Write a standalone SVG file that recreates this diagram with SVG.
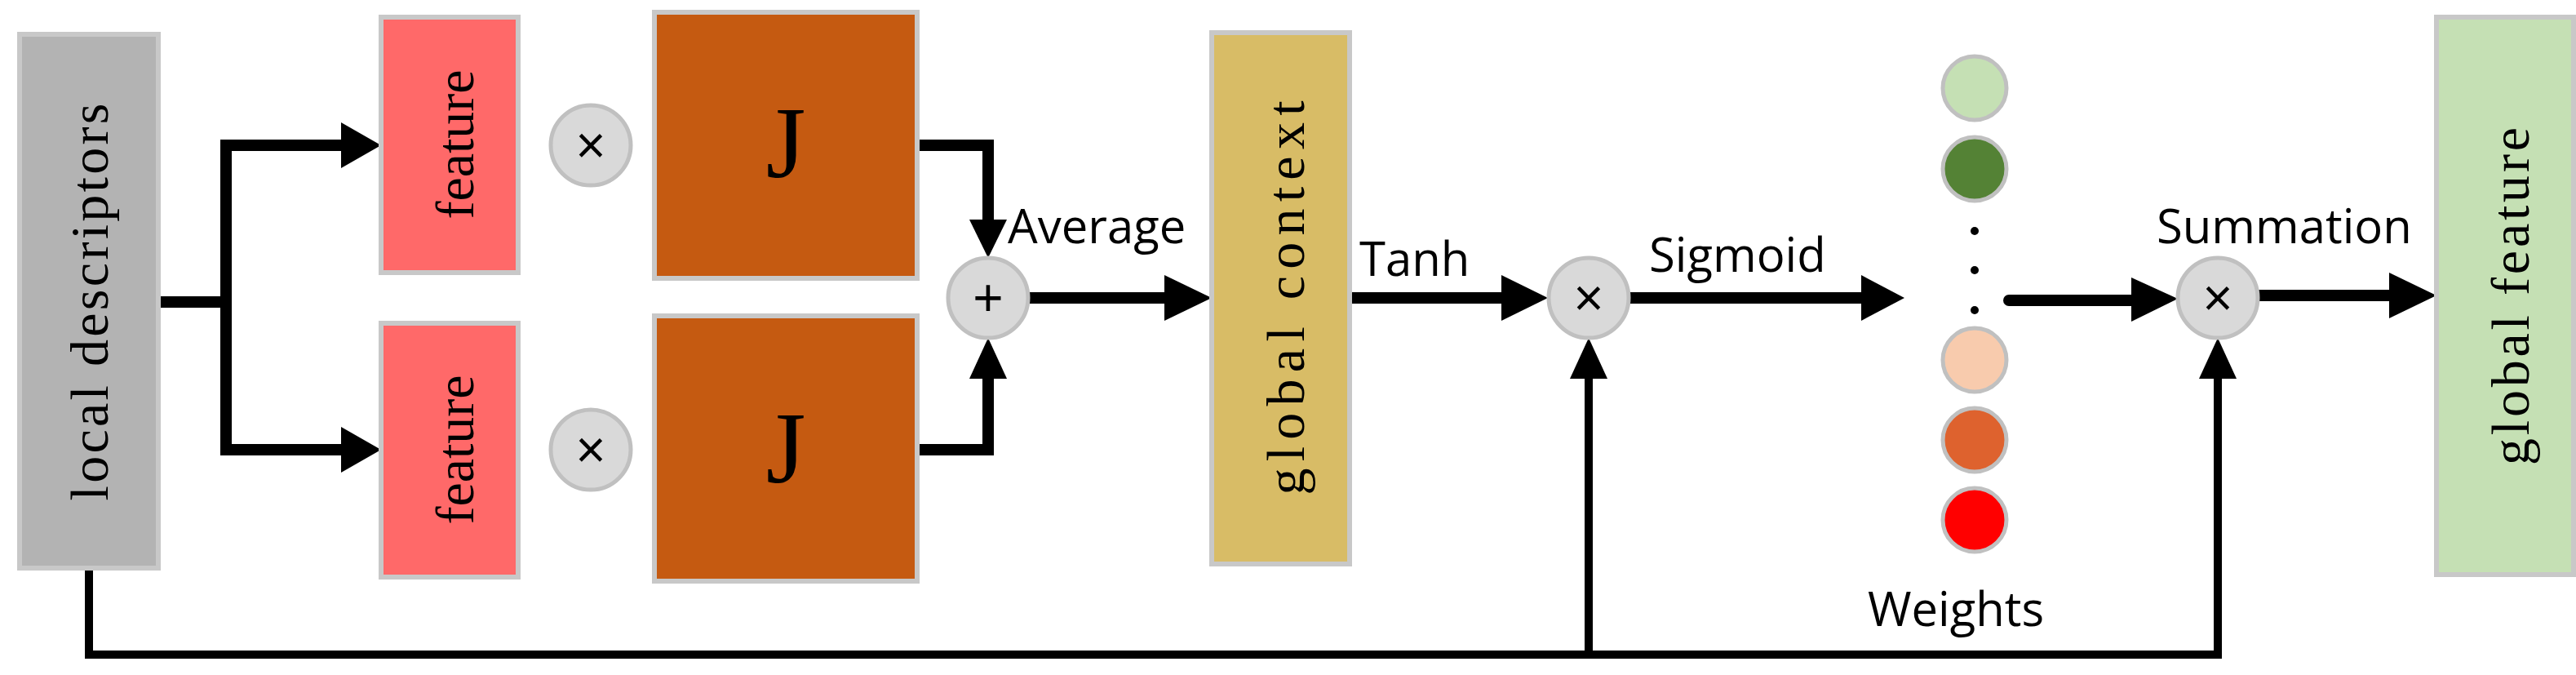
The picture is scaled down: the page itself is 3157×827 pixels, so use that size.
<svg xmlns="http://www.w3.org/2000/svg" width="3157" height="827" viewBox="0 0 3157 827">
<style>
.box{stroke:#c8c8c8;stroke-width:6}
.op{fill:#d9d9d9;stroke:#c0c0c0;stroke-width:5}
.ser{font-family:"Liberation Serif",serif;fill:#000}
.lbl{font-family:"Open Sans","Liberation Sans",sans-serif;font-size:58px;fill:#000}
.sym{font-family:"Liberation Sans",sans-serif;font-size:64px;text-anchor:middle;fill:#000}
.ln{stroke:#000;stroke-width:14;fill:none;stroke-linecap:round}
.thin{stroke:#000;stroke-width:10;fill:none;stroke-linecap:round}
.w{stroke:#c0c0c0;stroke-width:5}
</style>
<g id="connectors">
<path class="ln" d="M194 370H277V178H425M277 370V551H425"/>
<polygon points="418,150 467,178 418,206"/>
<polygon points="418,523 467,551 418,579"/>
<path class="ln" d="M1124 178H1211V275M1124 551H1211V455"/>
<polygon points="1188,269 1211,316 1234,269"/>
<polygon points="1188,464 1211,414 1234,464"/>
<path class="ln" d="M1262 365H1430"/>
<polygon points="1427,337 1485,365 1427,393"/>
<path class="ln" d="M1654 365H1845"/>
<polygon points="1840,337 1897,365 1840,393"/>
<path class="ln" d="M1996 365H2285"/>
<polygon points="2281,337 2334,365 2281,393"/>
<path class="ln" d="M2462 368H2615"/>
<polygon points="2612,340 2669,366 2612,394"/>
<path class="ln" d="M2767 362H2932"/>
<polygon points="2928,334 2986,362 2928,390"/>
<path class="thin" d="M109 696V802H2718V460M1947 802V460"/>
<polygon points="1924,464 1947,414 1970,464"/>
<polygon points="2695,464 2718,414 2741,464"/>
</g>
<g id="local-descriptors">
<rect class="box" x="24" y="42" width="170" height="654" fill="#b3b3b3"/>
<text class="ser" font-size="66" transform="translate(132,370) rotate(-90)" text-anchor="middle" textLength="487">local descriptors</text>
</g>
<g id="feature-top">
<rect class="box" x="467" y="21" width="168" height="313" fill="#ff6969"/>
<text class="ser" font-size="66" transform="translate(580,177) rotate(-90)" text-anchor="middle">feature</text>
</g>
<g id="feature-bottom">
<rect class="box" x="467" y="396" width="168" height="311" fill="#ff6969"/>
<text class="ser" font-size="66" transform="translate(580,551) rotate(-90)" text-anchor="middle">feature</text>
</g>
<g id="mul-top"><circle class="op" cx="724" cy="178" r="49"/><text class="sym" x="724" y="200">×</text></g>
<g id="mul-bottom"><circle class="op" cx="724" cy="551" r="49"/><text class="sym" x="724" y="573">×</text></g>
<g id="J-top">
<rect class="box" x="802" y="15" width="322" height="326" fill="#c55a11"/>
<text class="ser" font-size="125" x="963" y="217" text-anchor="middle">J</text>
</g>
<g id="J-bottom">
<rect class="box" x="802" y="387" width="322" height="325" fill="#c55a11"/>
<text class="ser" font-size="125" x="963" y="591" text-anchor="middle">J</text>
</g>
<g id="add"><circle class="op" cx="1211" cy="365" r="49"/><text class="sym" x="1211" y="387">+</text></g>
<text class="lbl" x="1235" y="298">Average</text>
<g id="global-context">
<rect class="box" x="1485" y="40" width="169" height="651" fill="#d8bc66"/>
<text class="ser" font-size="66" transform="translate(1598,365) rotate(-90)" text-anchor="middle" textLength="483">global context</text>
</g>
<text class="lbl" x="1666" y="338">Tanh</text>
<g id="mul-mid"><circle class="op" cx="1947" cy="365" r="49"/><text class="sym" x="1947" y="387">×</text></g>
<text class="lbl" x="2021" y="333">Sigmoid</text>
<g id="weights">
<circle class="w" cx="2420" cy="108" r="39" fill="#c5e0b4"/>
<circle class="w" cx="2420" cy="207" r="39" fill="#548235"/>
<circle cx="2420" cy="283" r="5"/><circle cx="2420" cy="331" r="5"/><circle cx="2420" cy="380" r="5"/>
<circle class="w" cx="2420" cy="441" r="39" fill="#f8cbad"/>
<circle class="w" cx="2420" cy="539" r="39" fill="#de622e"/>
<circle class="w" cx="2420" cy="637" r="39" fill="#ff0000"/>
<text class="lbl" x="2289" y="767">Weights</text>
</g>
<g id="mul-right"><circle class="op" cx="2718" cy="365" r="49"/><text class="sym" x="2718" y="387">×</text></g>
<text class="lbl" x="2643" y="298">Summation</text>
<g id="global-feature">
<rect class="box" x="2986" y="21" width="168" height="683" fill="#c5e0b4"/>
<text class="ser" font-size="66" transform="translate(3099,363) rotate(-90)" text-anchor="middle" textLength="414">global feature</text>
</g>
</svg>
